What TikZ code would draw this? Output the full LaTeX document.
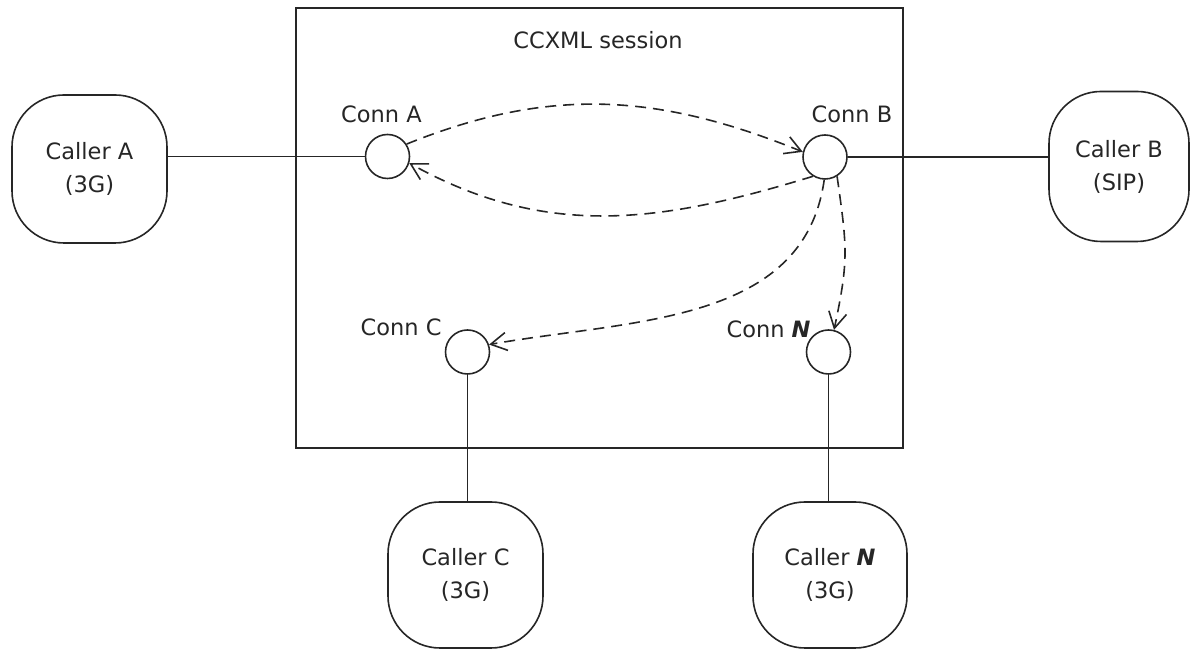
\documentclass[tikz,border=0pt]{standalone}
\usepackage{fontspec}
\setmainfont{DejaVu Sans}
\usetikzlibrary{arrows.meta, positioning}

\begin{document}
\begin{tikzpicture}
  [
    x                 = 0.5pt,
    y                 = 0.5pt,
    line width        = 0.8pt,
    draw              = black!85,
    every node/.style = {font=\fontsize{11.25}{16.5}\selectfont, text=black!85},
    session/.style    = {draw, minimum width=303.5pt, minimum height=220pt},
    conn/.style       = {draw, circle, inner sep=0pt, minimum size=22pt},
    caller/.style     = {draw, rounded corners=26pt, align=center},
    msg/.style        = {dash pattern=on 5.5pt off 3.5pt, -{Straight Barb[length=8pt, width=9pt]}}
  ]

  \useasboundingbox (0,0) rectangle (1198,651);

  % session and its connections
  \node[session] (box) at (599.5,423) {};
  \node (title) at (598,611) {CCXML session};

  \node[conn] (connA) at (387.5,494.5) {};
  \node[conn] (connB) at (825,494) {};
  \node[conn] (connC) at (467.5,299) {};
  \node[conn] (connN) at (828.5,299) {};

  \node (labA) at (381.5,537) {Conn A};
  \node (labB) at (852,537) {Conn B};
  \node[anchor=east] (labC) at (449,324) {Conn C};
  \node[anchor=east] (labN) at (818,322) {Conn \textbf{\textit{N}}};

  % callers
  \node[caller, minimum width=77.5pt, minimum height=74pt] (callerA) at (89.5,482) {Caller A\\(3G)};
  \node[caller, minimum width=70pt, minimum height=75pt] (callerB) at (1119,484.5) {Caller B\\(SIP)};
  \node[caller, minimum width=77.5pt, minimum height=73pt] (callerC) at (465.5,76) {Caller C\\(3G)};
  \node[caller, minimum width=77pt, minimum height=73pt] (callerN) at (830,76) {Caller \textbf{\textit{N}}\\(3G)};

  \draw (connA) -- (connA -| callerA.east);
  \draw (connB) -- (connB -| callerB.west);
  \draw (connC) -- (connC |- callerC.north);
  \draw (connN) -- (connN |- callerN.north);

  % messages
  \draw[msg] (connA.33) to[out=22, in=158] (connB.167);
  \draw[msg] (connB.-122) to[out=197, in=-29] (connA.-17);
  \draw[msg] (connB.-92) to[out=-98, in=10] (connC.19);
  \draw[msg] (connB.-58) to[out=-82, in=78, looseness=1.2] (connN.76);
\end{tikzpicture}
\end{document}
